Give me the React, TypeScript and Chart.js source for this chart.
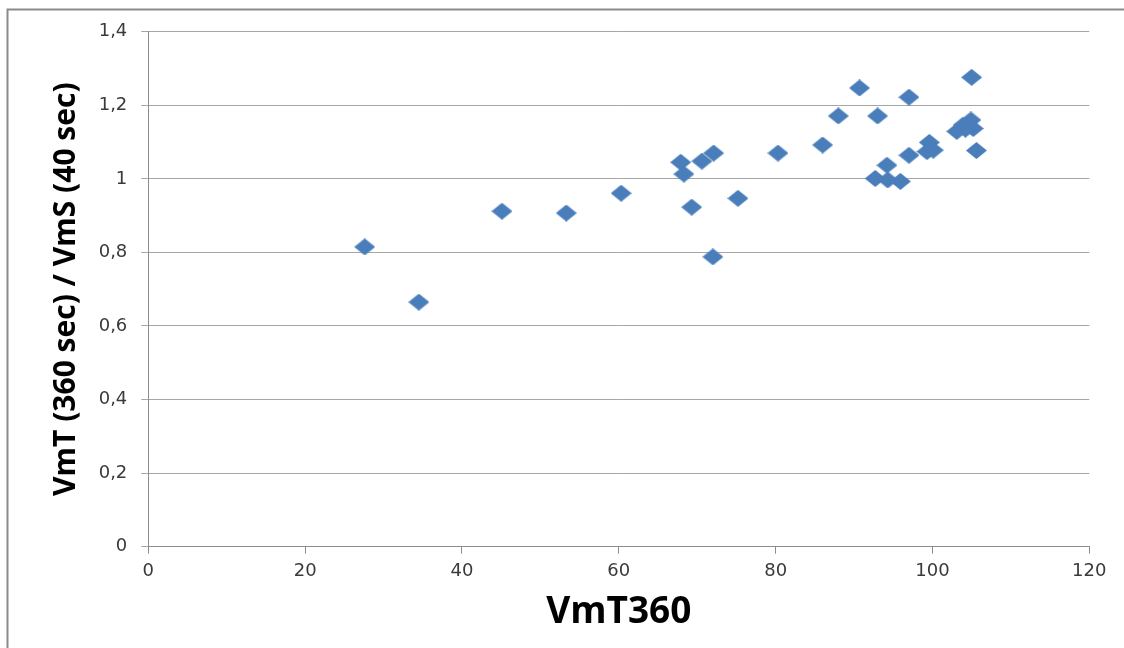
import React, { useEffect, useRef } from "react";
import { Chart, registerables } from "chart.js";

Chart.register(...registerables);

// ---- data ----
const xValues = [
  27.6, 34.5, 45.1, 53.3, 60.3, 67.9, 68.3, 69.3, 70.6, 72.1, 72.0, 75.2, 80.3,
  86.0, 88.0, 90.7, 93.0, 97.0, 105.0, 92.7, 94.3, 94.2, 95.9, 97.0, 99.3, 99.6,
  100.1, 103.1, 103.9, 104.9, 105.2, 105.6, 104.2,
];
const yValues = [
  0.815, 0.665, 0.912, 0.907, 0.961, 1.045, 1.013, 0.923, 1.048, 1.07, 0.788,
  0.947, 1.07, 1.092, 1.171, 1.247, 1.171, 1.222, 1.276, 1.001, 0.997, 1.037,
  0.993, 1.064, 1.074, 1.099, 1.078, 1.129, 1.146, 1.16, 1.137, 1.077, 1.135,
];
const xTicks = [0, 20, 40, 60, 80, 100, 120];
const xTickLabels = ["0", "20", "40", "60", "80", "100", "120"];
const yTicks = [0, 0.2, 0.4, 0.6, 0.8, 1.0, 1.2, 1.4];
const yTickLabels = ["0", "0,2", "0,4", "0,6", "0,8", "1", "1,2", "1,4"];
const xTitle = "VmT360";
const yTitle = "VmT (360 sec) / VmS (40 sec)";

const W = 1124;
const H = 648;
const AREA_LEFT = 148.3;
const AREA_RIGHT = 1089.3;
const AREA_TOP = 31.7;
const AREA_BOTTOM = 546.7;

function makeDiamond(w: number, h: number, color: string): HTMLCanvasElement {
  const c = document.createElement("canvas");
  c.width = w;
  c.height = h;
  const g = c.getContext("2d")!;
  g.fillStyle = color;
  g.beginPath();
  g.moveTo(w / 2, 0);
  g.lineTo(w, h / 2);
  g.lineTo(w / 2, h);
  g.lineTo(0, h / 2);
  g.closePath();
  g.fill();
  return c;
}

const framePlugin = {
  id: "frame",
  beforeDraw(chart: any) {
    const ctx = chart.ctx;
    ctx.save();
    ctx.fillStyle = "#ffffff";
    ctx.fillRect(0, 0, chart.width, chart.height);
    ctx.strokeStyle = "#8a8a8a";
    ctx.lineWidth = 2;
    ctx.beginPath();
    ctx.moveTo(7.5, chart.height);
    ctx.lineTo(7.5, 9.5);
    ctx.lineTo(chart.width, 9.5);
    ctx.stroke();
    ctx.restore();
  },
};

export default function App() {
  const ref = useRef<HTMLCanvasElement | null>(null);

  useEffect(() => {
    document.body.style.margin = "0";
    const canvas = ref.current!;
    const diamond = makeDiamond(21, 17, "#4a7ebb");
    const chart = new Chart(canvas, {
      type: "scatter",
      data: {
        datasets: [
          {
            data: xValues.map((x, i) => ({ x, y: yValues[i] })),
            pointStyle: diamond as any,
            backgroundColor: "#4a7ebb",
            borderColor: "#4a7ebb",
            pointRadius: 9,
          },
        ],
      },
      options: {
        animation: false,
        responsive: false,
        devicePixelRatio: 1,
        layout: {
          padding: { left: 0, top: AREA_TOP, right: W - AREA_RIGHT, bottom: 0 },
        },
        plugins: {
          legend: { display: false },
          tooltip: { enabled: false },
        },
        scales: {
          x: {
            type: "linear",
            min: 0,
            max: 120,
            afterFit: (s: any) => {
              s.height = H - AREA_BOTTOM;
            },
            afterBuildTicks: (s: any) => {
              s.ticks = xTicks.map((v) => ({ value: v }));
            },
            ticks: {
              callback: (_v: any, i: number) => xTickLabels[i],
              font: { family: "DejaVu Sans", size: 18 },
              color: "#3a3a3a",
              padding: 7,
              maxRotation: 0,
            },
            grid: {
              drawOnChartArea: false,
              drawTicks: true,
              tickLength: 7,
              color: "#8c8c8c",
            },
            border: { display: true, color: "#8c8c8c", width: 1 },
            title: {
              display: true,
              text: xTitle,
              font: { family: "Open Sans", size: 37, weight: "bold" },
              color: "#000000",
              padding: { top: 0, bottom: 13 },
            },
          },
          y: {
            type: "linear",
            min: 0,
            max: 1.4,
            afterFit: (s: any) => {
              s.width = AREA_LEFT;
            },
            afterBuildTicks: (s: any) => {
              s.ticks = yTicks.map((v) => ({ value: v }));
            },
            ticks: {
              callback: (_v: any, i: number) => yTickLabels[i],
              font: { family: "DejaVu Sans", size: 18 },
              color: "#3a3a3a",
              padding: 14,
            },
            grid: {
              drawOnChartArea: true,
              drawTicks: true,
              tickLength: 7,
              color: "#a6a6a6",
            },
            border: { display: true, color: "#8c8c8c", width: 1 },
            title: {
              display: true,
              text: yTitle,
              font: { family: "Open Sans", size: 30, weight: "bold" },
              color: "#000000",
              padding: { top: 48, bottom: 0 },
            },
          },
        },
      },
      plugins: [framePlugin],
    });
    return () => chart.destroy();
  }, []);

  return (
    <div style={{ width: W, height: H }}>
      <canvas ref={ref} width={W} height={H} style={{ width: W, height: H, display: "block" }} />
    </div>
  );
}
